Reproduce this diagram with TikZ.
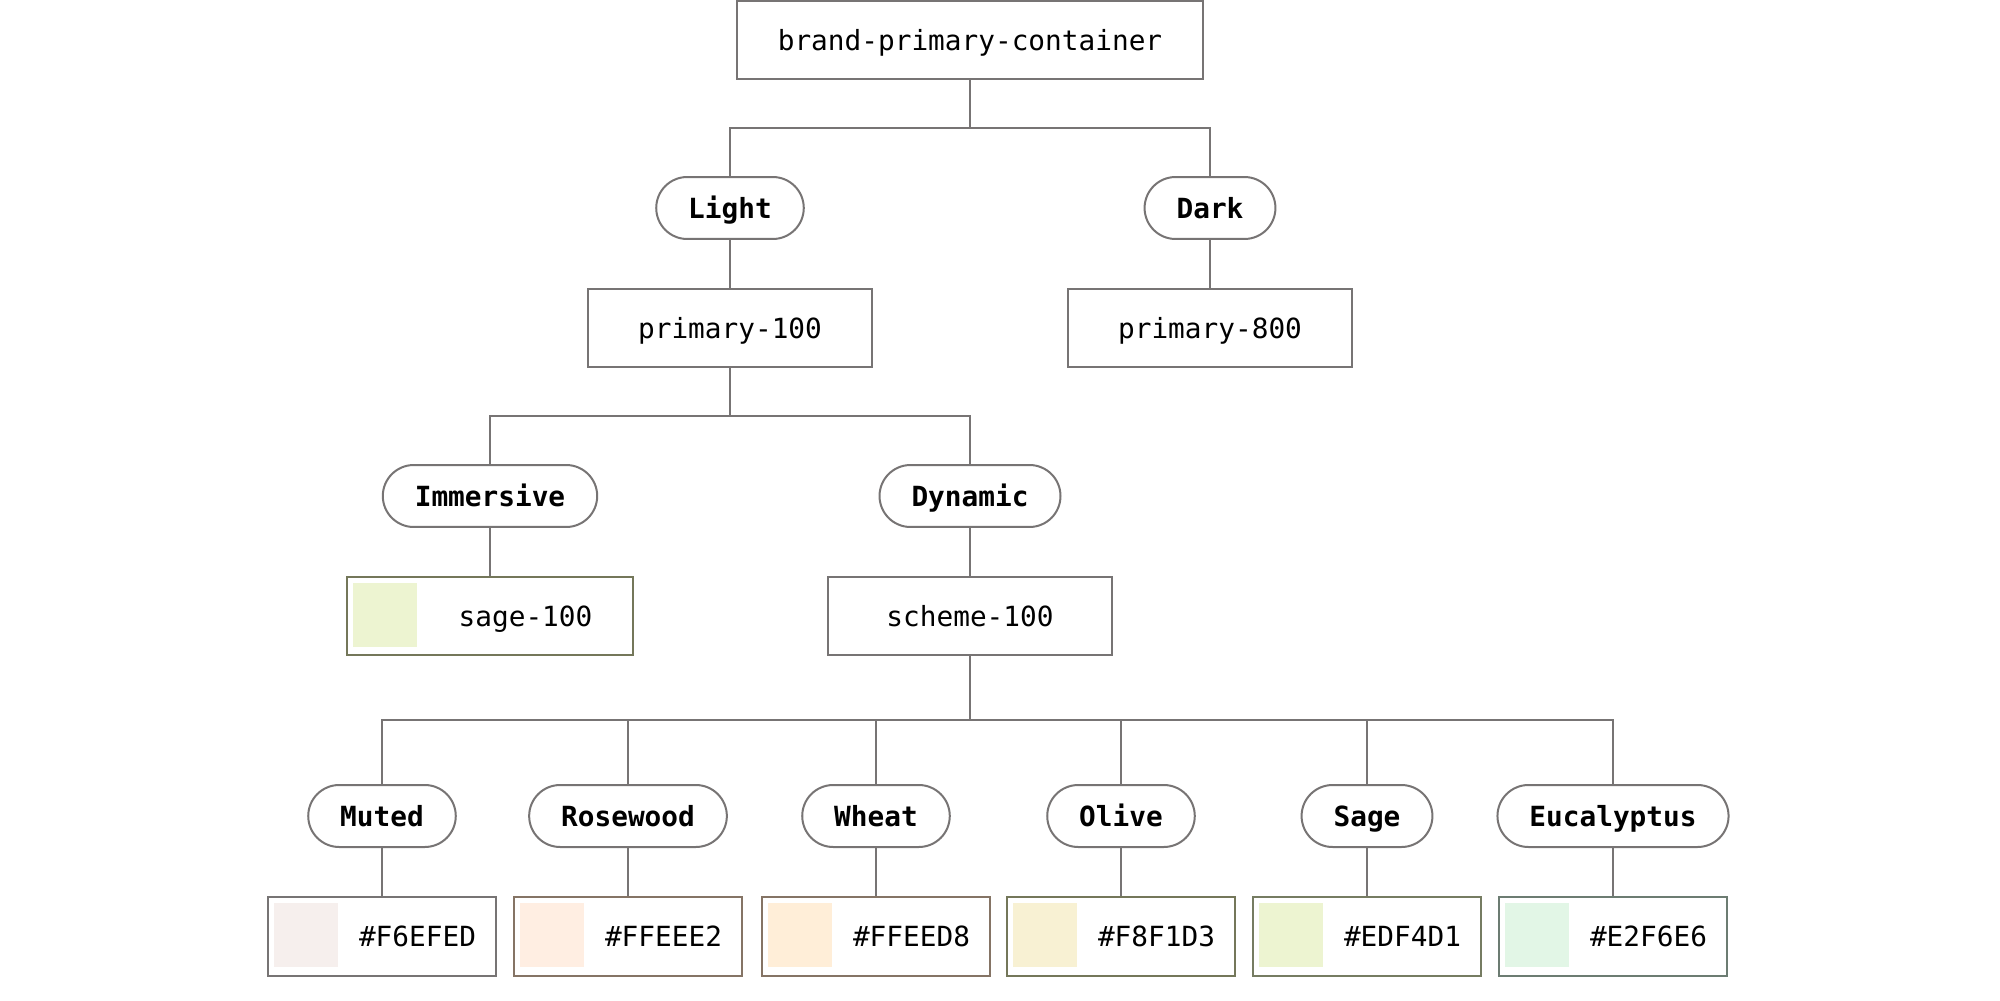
\documentclass[tikz,border=0pt]{standalone}
\usepackage{fontspec}
\setmonofont{DejaVu Sans Mono}
\usetikzlibrary{
  calc,
  positioning,
}
\definecolor{linegray}{HTML}{777474}
\definecolor{edgeolive}{HTML}{74775A}
\definecolor{edgebrown}{HTML}{857465}
\definecolor{edgesage}{HTML}{767C62}
\definecolor{edgeeuca}{HTML}{6C7C72}
\definecolor{swF6EFED}{HTML}{F6EFED}
\definecolor{swFFEEE2}{HTML}{FFEEE2}
\definecolor{swFFEED8}{HTML}{FFEED8}
\definecolor{swF8F1D3}{HTML}{F8F1D3}
\definecolor{swEDF4D1}{HTML}{EDF4D1}
\definecolor{swE2F6E6}{HTML}{E2F6E6}
\tikzset{
  link/.style={draw=linegray, line width=0.04cm},
  elbow/.style={to path={(\tikztostart) -- ($(\tikztostart)!0.5!(\tikztostart |- \tikztotarget)$) -| (\tikztotarget)}},
  monotext/.style={font=\ttfamily\fontsize{15.8}{18}\selectfont, text height=11.5pt, text depth=0pt},
  tokenbox/.style={monotext, draw=linegray, line width=0.04cm, fill=white, minimum width=5.7cm,
    minimum height=1.58cm, inner xsep=0.8cm},
  pill/.style={monotext, draw=linegray, line width=0.04cm, fill=white, rounded corners=0.62cm,
    minimum height=1.24cm, inner xsep=0.64cm, font=\ttfamily\bfseries\fontsize{15.8}{18}\selectfont},
}
% #1 name, #2 centre, #3 swatch colour, #4 border colour, #5 text, #6 width
\newcommand\colorleaf[6]{%
  \node[tokenbox, draw=#4, minimum width=#6] (#1) at #2 {};
  \fill[#3] ($(#1.north west)+(7,7)$) rectangle ++(64,64);
  \node[monotext] (#1-text) at ($(#1.west)!0.5!(#1.east)+(35.5,0)$) {#5};
}

\begin{document}
\begin{tikzpicture}[x=0.02cm, y=-0.02cm]
  \useasboundingbox (0,0) rectangle (2000,1000);

  % theme level
  \node[tokenbox, minimum width=9.32cm] (root) at (970,40) {brand-primary-container};
  \node[pill] (light) at (730,208) {Light};
  \node[pill] (dark) at (1210,208) {Dark};
  \node[tokenbox] (p100) at (730,328) {primary-100};
  \node[tokenbox] (p800) at (1210,328) {primary-800};

  % mode level
  \node[pill] (immersive) at (490,496) {Immersive};
  \node[pill] (dynamic) at (970,496) {Dynamic};
  \colorleaf{sage100}{(490,616)}{swEDF4D1}{edgeolive}{sage-100}{5.72cm}
  \node[tokenbox] (scheme) at (970,616) {scheme-100};

  % schemes
  \node[pill] (muted) at (382,816) {Muted};
  \node[pill] (rosewood) at (628,816) {Rosewood};
  \node[pill] (wheat) at (876,816) {Wheat};
  \node[pill] (olive) at (1121,816) {Olive};
  \node[pill] (sage) at (1367,816) {Sage};
  \node[pill] (euca) at (1613,816) {Eucalyptus};

  \colorleaf{mutedhex}{(382,936)}{swF6EFED}{linegray}{\#F6EFED}{4.56cm}
  \colorleaf{rosehex}{(628,936)}{swFFEEE2}{edgebrown}{\#FFEEE2}{4.56cm}
  \colorleaf{wheathex}{(876,936)}{swFFEED8}{edgebrown}{\#FFEED8}{4.56cm}
  \colorleaf{olivehex}{(1121,936)}{swF8F1D3}{edgeolive}{\#F8F1D3}{4.56cm}
  \colorleaf{sagehex}{(1367,936)}{swEDF4D1}{edgesage}{\#EDF4D1}{4.56cm}
  \colorleaf{eucahex}{(1613,936)}{swE2F6E6}{edgeeuca}{\#E2F6E6}{4.56cm}

  \path[link] (root.south) edge[elbow] (light.north)
              (root.south) edge[elbow] (dark.north)
              (light) edge (p100)
              (dark) edge (p800)
              (p100.south) edge[elbow] (immersive.north)
              (p100.south) edge[elbow] (dynamic.north)
              (immersive) edge (sage100)
              (dynamic) edge (scheme)
              (scheme.south) edge[elbow] (muted.north)
              (scheme.south) edge[elbow] (rosewood.north)
              (scheme.south) edge[elbow] (wheat.north)
              (scheme.south) edge[elbow] (olive.north)
              (scheme.south) edge[elbow] (sage.north)
              (scheme.south) edge[elbow] (euca.north)
              (muted) edge (mutedhex)
              (rosewood) edge (rosehex)
              (wheat) edge (wheathex)
              (olive) edge (olivehex)
              (sage) edge (sagehex)
              (euca) edge (eucahex);
\end{tikzpicture}
\end{document}
